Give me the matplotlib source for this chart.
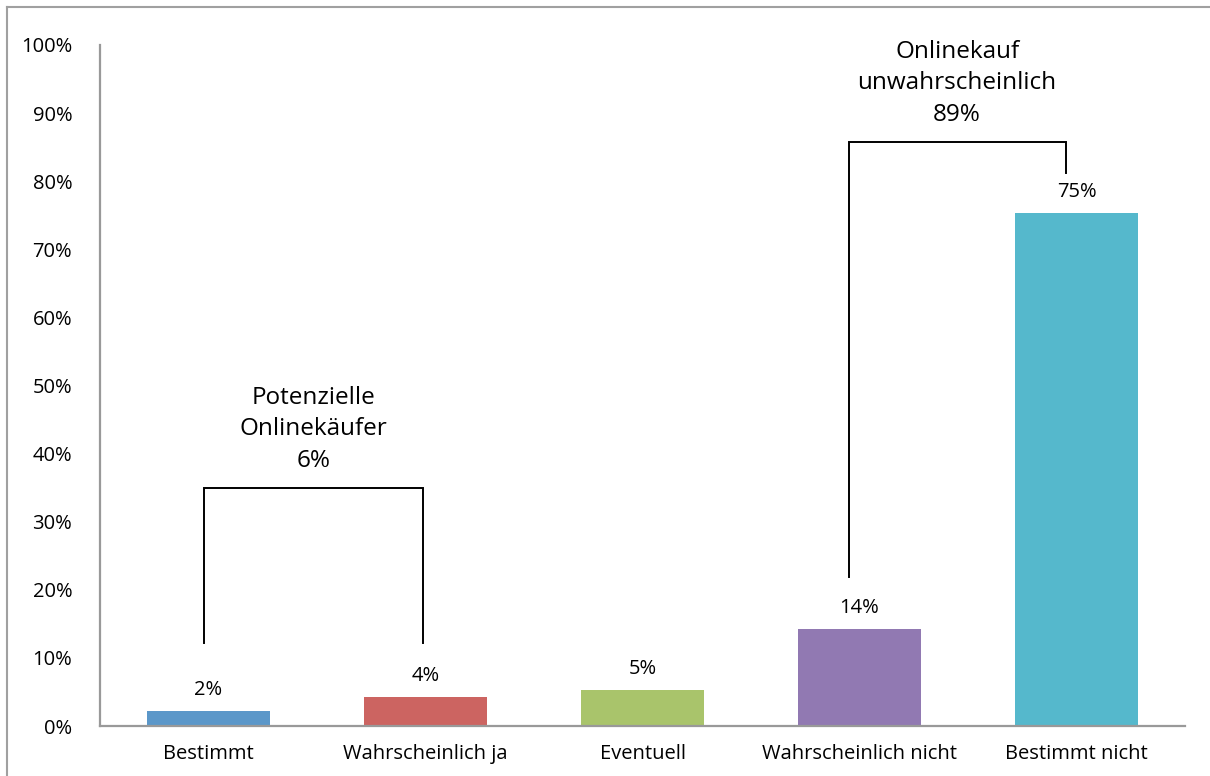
import matplotlib.pyplot as plt
from matplotlib.lines import Line2D

categories = ["Bestimmt", "Wahrscheinlich ja", "Eventuell", "Wahrscheinlich nicht", "Bestimmt nicht"]
values = [2.2, 4.2, 5.3, 14.3, 75.3]
value_labels = ["2%", "4%", "5%", "14%", "75%"]
colors = ["#5B97C9", "#CC6461", "#A9C46B", "#9179B2", "#55B8CC"]

yticks = list(range(0, 101, 10))
ytick_labels = [f"{t}%" for t in yticks]

# brackets: (left x, right x, left bottom, right bottom, top, text)
brackets = [
  (-0.02, 0.99, 12.2, 12.2, 35.0, "Potenzielle\nOnlinekäufer\n6%"),
  (2.95, 3.95, 21.9, 81.2, 85.8, "Onlinekauf\nunwahrscheinlich\n89%"),
]

plt.rcParams["font.family"] = ["Open Sans", "DejaVu Sans"]

fig = plt.figure(figsize=(12.1, 7.76), dpi=100)
ax = fig.add_axes([100 / 1210, 50 / 776, 1085 / 1210, 681 / 776])

x = list(range(len(categories)))
ax.bar(x, values, width=0.57, color=colors, zorder=2)

for xi, v, lab in zip(x, values, value_labels):
  ax.annotate(lab, (xi, v), xytext=(0, 8), textcoords="offset points",
              ha="center", va="bottom", fontsize=14.5, color="black")

for x0, x1, b0, b1, top, text in brackets:
  ax.plot([x0, x0, x1, x1], [b0, top, top, b1], color="black", linewidth=1.4,
          solid_joinstyle="miter", zorder=3)
  ax.text((x0 + x1) / 2, top + 2.2, text, ha="center", va="bottom",
          fontsize=17.5, linespacing=1.42, color="black")

ax.set_xlim(-0.5, 4.5)
ax.set_ylim(0, 100)
ax.set_xticks(x)
ax.set_xticklabels(categories, fontsize=14.5)
ax.set_yticks(yticks)
ax.set_yticklabels(ytick_labels, fontsize=14.5)
ax.tick_params(length=0, pad=20, colors="black")
ax.tick_params(axis="x", pad=13)

for side in ["top", "right"]:
  ax.spines[side].set_visible(False)
for side in ["left", "bottom"]:
  ax.spines[side].set_color("#999999")
  ax.spines[side].set_linewidth(1.6)

# frame of the screenshot (top and left only)
fig.add_artist(Line2D([7 / 1210, 7 / 1210], [0, 1 - 7 / 776], color="#A0A0A0", linewidth=1.5))
fig.add_artist(Line2D([7 / 1210, 1], [1 - 7 / 776, 1 - 7 / 776], color="#A0A0A0", linewidth=1.5))

fig.savefig("out.png", dpi=100)
plt.close(fig)
